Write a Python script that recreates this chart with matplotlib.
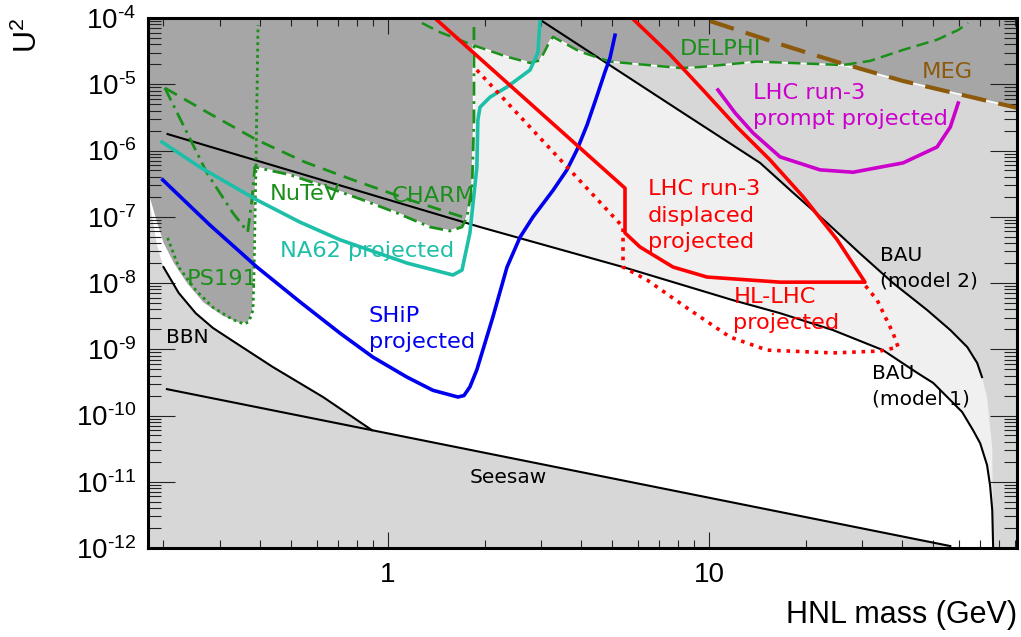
import numpy as np
import matplotlib
matplotlib.use("Agg")
import matplotlib.pyplot as plt
from matplotlib.ticker import LogLocator, FixedLocator, FixedFormatter, NullFormatter

plt.rcParams["mathtext.fontset"] = "custom"
plt.rcParams["mathtext.rm"] = "Liberation Sans"
plt.rcParams["mathtext.it"] = "Liberation Sans:italic"
plt.rcParams["font.family"] = "DejaVu Sans"

# axis range
xmin, xmax = 0.179, 91.0
ymin, ymax = 1e-12, 1e-4

# colours
c_dark, c_light, c_vlight = "#a6a6a6", "#d7d7d7", "#f0f0f0"
c_green, c_teal, c_blue = "#1a8f1a", "#1dbfa8", "#0000ee"
c_red, c_mag, c_brown = "#ff0000", "#cc00cc", "#8c5a0a"

# ---- theory curves (mass GeV, U^2) ----
bau1_m = [0.206, 1.935, 5.40, 11.88, 16.65, 24.3, 34.8, 44.5, 49.9, 56.4, 61.4, 66.4, 69.9,
          73.4, 75.0, 76.2, 76.7]
bau1_u = [1.77e-6, 7.0e-8, 1.74e-8, 5.5e-9, 3.5e-9, 1.95e-9, 9.7e-10, 4.4e-10, 3.1e-10, 1.71e-10,
          1.13e-10, 6.0e-11, 3.8e-11, 1.79e-11, 8.9e-12, 3.75e-12, 1e-12]

bau2_m = [2.978, 8.13, 14.42, 18.28, 23.3, 29.5, 37.4, 47.8, 56.4, 63.7, 68.4, 70.8]
bau2_u = [9.4e-5, 3.94e-6, 6.5e-7, 2.3e-7, 8.1e-8, 2.8e-8, 1.0e-8, 3.9e-9, 1.95e-9, 1.08e-9, 6.2e-10, 3.8e-10]
# edge of the BAU(model 2) shaded band below the end of the curve
bau2_edge_m = [70.8, 73.4, 76.2, 76.7]
bau2_edge_u = [3.8e-10, 1.9e-10, 3.3e-11, 1e-12]

seesaw_m = [0.205, 0.892, 56.4]
seesaw_u = [2.5e-10, 6.0e-11, 1.07e-12]

bbn_m = [0.200, 0.223, 0.252, 0.285, 0.329, 0.438, 0.628, 0.892]
bbn_u = [1.74e-8, 7.1e-9, 3.5e-9, 2.1e-9, 1.33e-9, 5.4e-10, 1.9e-10, 6.0e-11]
bbn_top_m = [0.179, 0.185, 0.191]
bbn_top_u = [2.3e-7, 8.9e-8, 3.7e-8]

# ---- excluded region ----
ps191_edge_m = [0.179, 0.180, 0.189, 0.199, 0.214, 0.235, 0.265, 0.306, 0.348, 0.369, 0.380, 0.383, 0.388]
ps191_edge_u = [2.3e-7, 2.0e-7, 8.9e-8, 4.0e-8, 2.0e-8, 1.0e-8, 5.0e-9, 3.1e-9, 2.4e-9, 2.6e-9, 3.9e-9, 1.57e-8, 5.1e-7]

ps191_m = [0.206, 0.223, 0.252, 0.285, 0.329, 0.356, 0.369, 0.380, 0.383, 0.388, 0.394]
ps191_u = [4.8e-8, 1.74e-8, 7.8e-9, 4.3e-9, 2.8e-9, 2.4e-9, 2.6e-9, 3.9e-9, 1.57e-8, 5.1e-7, 7.8e-5]

charm_m = [0.202, 0.237, 0.273, 0.329, 0.366, 0.377, 0.385, 0.495, 0.659, 0.836, 1.067, 1.352,
           1.560, 1.701, 1.762, 1.828, 1.853, 1.853]
charm_u = [8.8e-6, 1.84e-6, 4.6e-7, 1.14e-7, 5.9e-8, 1.79e-7, 5.6e-7, 4.3e-7, 2.7e-7, 1.79e-7, 1.14e-7, 7.0e-8,
           6.1e-8, 7.0e-8, 9.9e-8, 2.8e-7, 2.9e-6, 7.3e-5]

nutev_m = [0.202, 0.273, 0.391, 0.551, 0.778, 1.171, 1.713]
nutev_u = [8.8e-6, 3.8e-6, 1.44e-6, 6.7e-7, 3.6e-7, 1.79e-7, 9.9e-8]

delphi_m = [1.276, 1.452, 1.840, 2.349, 2.770, 2.978, 3.148, 3.266, 3.963, 4.916, 8.128, 9.376,
            14.11, 26.1, 31.7, 40.2, 51.3, 59.7, 64.1]
delphi_u = [8.4e-5, 6.1e-5, 3.9e-5, 2.6e-5, 2.1e-5, 2.3e-5, 3.9e-5, 5.2e-5, 3.1e-5, 2.2e-5, 1.76e-5, 1.82e-5,
            2.2e-5, 1.95e-5, 2.25e-5, 3.3e-5, 4.7e-5, 6.6e-5, 8.4e-5]

meg_m = [10.07, 17.9, 25.6, 40.2, 91.1]
meg_u = [9.0e-5, 3.6e-5, 2.1e-5, 1.12e-5, 4.4e-6]

# ---- projections ----
na62_m = [0.198, 0.260, 0.391, 0.532, 0.708, 1.146, 1.594, 1.701, 1.800, 1.892, 1.906, 1.935,
          2.080, 2.349, 2.770, 2.931, 2.978]
na62_u = [1.34e-6, 5.6e-7, 1.79e-7, 8.3e-8, 4.5e-8, 2.0e-8, 1.32e-8, 1.57e-8, 5.7e-8, 5.6e-7, 2.9e-6, 4.5e-6,
          6.4e-6, 9.1e-6, 1.64e-5, 3.0e-5, 9.3e-5]

ship_m = [0.199, 0.279, 0.391, 0.532, 0.708, 0.898, 1.146, 1.381, 1.652, 1.725, 1.80, 1.892, 2.124,
          2.349, 2.578, 2.829, 3.266, 3.61, 3.878, 4.17, 4.477, 4.74, 4.916, 5.096]
ship_u = [3.6e-7, 7.5e-8, 1.74e-8, 5.2e-9, 1.76e-9, 7.6e-10, 3.8e-10, 2.4e-10, 1.9e-10, 2.0e-10, 2.7e-10, 4.9e-10,
          3.1e-9, 1.74e-8, 4.9e-8, 9.9e-8, 2.5e-7, 5.1e-7, 1.02e-6, 2.43e-6, 6.65e-6, 1.53e-5, 2.5e-5, 5.5e-5]

lhc3_m = [1.422, 5.474, 5.474, 6.095, 7.727, 9.857, 16.65, 30.6, 25.06, 19.64, 15.49, 12.22, 9.575, 7.561, 5.754]
lhc3_u = [9.3e-5, 2.7e-7, 5.7e-8, 3.5e-8, 1.74e-8, 1.23e-8, 1.03e-8, 1.03e-8, 4.5e-8, 2.0e-7, 7.2e-7, 2.26e-6,
          8.2e-6, 2.8e-5, 1e-4]

hllhc_m = [1.892, 5.397, 5.397, 6.412, 8.730, 11.62, 15.17, 24.34, 34.1, 38.8, 37.4, 33.4, 30.2]
hllhc_u = [1.64e-5, 7.0e-8, 1.74e-8, 1.11e-8, 3.9e-9, 1.53e-9, 9.7e-10, 8.8e-10, 9.4e-10, 1.08e-9, 1.76e-9,
           5.5e-9, 1.0e-8]

prompt_m = [10.66, 12.05, 13.71, 16.65, 22.17, 28.09, 40.2, 51.3, 56.4, 59.7]
prompt_u = [8.2e-6, 3.7e-6, 1.84e-6, 8.0e-7, 5.1e-7, 4.7e-7, 6.5e-7, 1.13e-6, 2.26e-6, 5.2e-6]

# annotation text, position of last-line baseline
labels = [
    ("DELPHI", 8.13, 2.77e-5, c_green, 16.2),
    ("MEG", 45.8, 1.24e-5, c_brown, 16.2),
    ("LHC run-3\nprompt projected", 13.7, 2.43e-6, c_mag, 16.2),
    ("NuTeV", 0.429, 1.79e-7, c_green, 16.2),
    ("CHARM", 1.03, 1.67e-7, c_green, 16.2),
    ("NA62 projected", 0.461, 2.47e-8, c_teal, 16.2),
    ("PS191", 0.237, 9.3e-9, c_green, 16.2),
    ("LHC run-3\ndisplaced\nprojected", 6.46, 3.37e-8, c_red, 16.2),
    ("HL-LHC\nprojected", 11.9, 2.02e-9, c_red, 16.2),
    ("SHiP\nprojected", 0.873, 1.04e-9, c_blue, 16.2),
    ("BAU\n(model 2)", 34.1, 9.0e-9, "black", 14.5),
    ("BAU\n(model 1)", 32.2, 1.49e-10, "black", 14.5),
    ("BBN", 0.203, 1.24e-9, "black", 14.5),
    ("Seesaw", 1.80, 9.6e-12, "black", 14.5),
]

fig = plt.figure(figsize=(10.21, 6.37), dpi=100)
ax = fig.add_axes([148 / 1021, 89 / 637, 869 / 1021, 530 / 637])
ax.set_xscale("log")
ax.set_yscale("log")
ax.set_xlim(xmin, xmax)
ax.set_ylim(ymin, ymax)

# shaded regions
ax.fill(bau1_m + [xmax, xmax, bau1_m[0]], bau1_u + [ymin, ymax, ymax],
        color=c_vlight, lw=0, zorder=1)
ax.fill(bau2_m + bau2_edge_m[1:] + [xmax, xmax], bau2_u + bau2_edge_u[1:] + [ymin, ymax],
        color=c_light, lw=0, zorder=1.1)
ax.fill(bbn_top_m + bbn_m + seesaw_m[1:] + [seesaw_m[-1], xmin],
        bbn_top_u + bbn_u + seesaw_u[1:] + [ymin, ymin],
        color=c_light, lw=0, zorder=1.2)

dark_m = [xmin] + ps191_edge_m + charm_m[6:-1] + delphi_m[2:14] + meg_m[3:] + [xmax, xmin]
dark_u = [ymax] + ps191_edge_u + charm_u[6:-1] + [3.9e-5] + delphi_u[3:14] + meg_u[3:] + [ymax, ymax]
ax.fill(dark_m, dark_u, facecolor=c_dark, edgecolor="white", lw=1.2, zorder=1.3)

# black theory lines
for xs, ys in [(bau1_m, bau1_u), (bau2_m, bau2_u), (seesaw_m, seesaw_u), (bbn_m, bbn_u)]:
    ax.plot(xs, ys, color="black", lw=1.5, zorder=3, solid_joinstyle="round")

# experimental bounds
ax.plot(ps191_m, ps191_u, color=c_green, lw=2, ls=(0, (1, 1.3)), zorder=3)
ax.plot(charm_m, charm_u, color=c_green, lw=2, ls=(0, (5, 2, 1, 2)), zorder=3)
ax.plot(nutev_m, nutev_u, color=c_green, lw=2, ls=(0, (5, 3)), zorder=3)
ax.plot(delphi_m, delphi_u, color=c_green, lw=1.8, ls=(0, (5, 2.5)), zorder=3)
ax.plot(meg_m, meg_u, color=c_brown, lw=3, ls=(0, (6, 3)), zorder=3)

# projections
ax.plot(na62_m, na62_u, color=c_teal, lw=2.6, zorder=4, solid_joinstyle="round")
ax.plot(ship_m, ship_u, color=c_blue, lw=2.6, zorder=4, solid_joinstyle="round")
ax.plot(lhc3_m, lhc3_u, color=c_red, lw=2.6, zorder=4)
ax.plot(hllhc_m, hllhc_u, color=c_red, lw=2.6, ls=(0, (1, 1.6)), zorder=4)
ax.plot(prompt_m, prompt_u, color=c_mag, lw=2.6, zorder=4, solid_joinstyle="round")

for txt, x, y, col, fs in labels:
    ax.text(x, y, txt, color=col, fontsize=fs, ha="left", va="baseline",
            linespacing=1.4, zorder=6)

# axes styling (ROOT-like)
ax.xaxis.set_major_locator(FixedLocator([1, 10]))
ax.xaxis.set_major_formatter(FixedFormatter(["1", "10"]))
ax.xaxis.set_minor_locator(LogLocator(base=10, subs=np.arange(2, 10), numticks=20))
ax.xaxis.set_minor_formatter(NullFormatter())
ydec = list(range(-12, -3))
ax.yaxis.set_major_locator(FixedLocator([10.0 ** d for d in ydec]))
ax.yaxis.set_major_formatter(FixedFormatter([r"$\mathregular{10^{\text{-}%d}}$" % -d for d in ydec]))
ax.yaxis.set_minor_locator(LogLocator(base=10, subs=np.arange(2, 10), numticks=20))
ax.yaxis.set_minor_formatter(NullFormatter())

ax.tick_params(which="both", direction="in", top=True, right=True, width=0.8, color="#222222")
ax.tick_params(axis="x", which="major", length=11.5, pad=10, labelsize=20)
ax.tick_params(axis="x", which="minor", length=5.8)
ax.tick_params(axis="y", which="major", length=19.4, pad=8.5, labelsize=20)
ax.tick_params(axis="y", which="minor", length=9.4)
for lab in ax.get_xticklabels() + ax.get_yticklabels():
    lab.set_family("Liberation Sans")
for sp in ax.spines.values():
    sp.set_linewidth(2.2)
    sp.set_zorder(7)

fig.text(1017 / 1021, 1 - 615 / 637, "HNL mass (GeV)", ha="right", va="center",
         fontsize=22, family="Liberation Sans")
fig.text(28 / 1021, 1 - 18 / 637, r"$\mathregular{U^{2}}$", rotation=90, ha="center", va="top",
         fontsize=22, family="Liberation Sans")

fig.savefig("out.png", dpi=100)
